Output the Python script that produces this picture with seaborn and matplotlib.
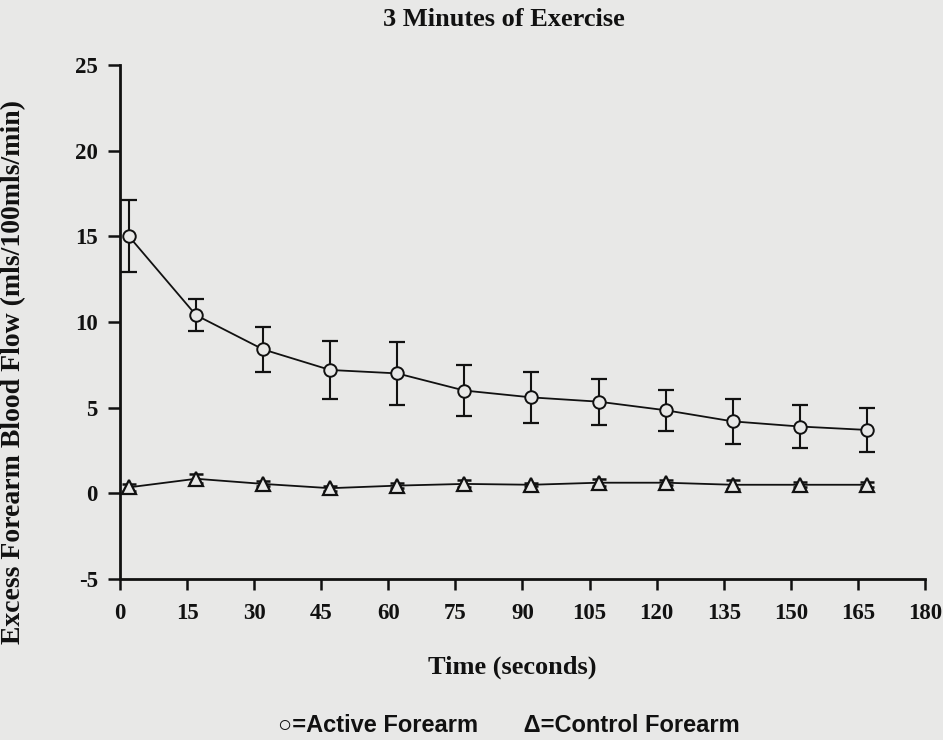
import matplotlib
matplotlib.use("Agg")
import matplotlib.pyplot as plt
import seaborn as sns
import pandas as pd

# ---- data ----
time_s = [2, 17, 32, 47, 62, 77, 92, 107, 122, 137, 152, 167]
active_mean = [15.0, 10.4, 8.4, 7.2, 7.0, 6.0, 5.6, 5.35, 4.85, 4.2, 3.9, 3.7]
active_err = [2.1, 0.95, 1.3, 1.7, 1.85, 1.5, 1.5, 1.35, 1.2, 1.3, 1.25, 1.3]
control_mean = [0.35, 0.85, 0.55, 0.3, 0.45, 0.55, 0.5, 0.62, 0.62, 0.5, 0.5, 0.5]
control_err = [0.2, 0.25, 0.15, 0.15, 0.15, 0.2, 0.1, 0.2, 0.15, 0.25, 0.15, 0.15]
x_ticks = [0, 15, 30, 45, 60, 75, 90, 105, 120, 135, 150, 165, 180]
y_ticks = [-5, 0, 5, 10, 15, 20, 25]

title = "3 Minutes of Exercise"
xlabel = "Time (seconds)"
ylabel = "Excess Forearm Blood Flow (mls/100mls/min)"
legend_text = "\u25CB=Active Forearm       \u0394=Control Forearm"

bg = "#e8e8e7"
ink = "#111111"

sns.set_theme(style="ticks")
plt.rcParams["font.family"] = ["Liberation Serif", "DejaVu Serif"]
plt.rcParams["axes.unicode_minus"] = False

df = pd.DataFrame({
    "time": time_s * 2,
    "flow": active_mean + control_mean,
    "arm": ["Active"] * len(time_s) + ["Control"] * len(time_s),
})

fig = plt.figure(figsize=(9.43, 7.4), dpi=100, facecolor=bg)
ax = fig.add_axes([120 / 943, 1 - 579 / 740, (925 - 120) / 943, (579 - 65) / 740])
ax.set_facecolor(bg)

# error bars first
ax.errorbar(time_s, active_mean, yerr=active_err, fmt="none", ecolor=ink,
            elinewidth=1.5, capsize=5.5, capthick=1.6, zorder=2)
ax.errorbar(time_s, control_mean, yerr=control_err, fmt="none", ecolor=ink,
            elinewidth=1.4, capsize=5, capthick=1.8, zorder=2)

sns.lineplot(data=df, x="time", y="flow", hue="arm", style="arm",
             markers={"Active": "o", "Control": "^"}, dashes=False,
             palette={"Active": ink, "Control": ink}, linewidth=1.3,
             markersize=9, markerfacecolor=bg, markeredgecolor=ink,
             markeredgewidth=1.4, legend=False, ax=ax, zorder=3)
for ln in ax.lines:
    if ln.get_marker() == "^":
        ln.set_markersize(10.5)
        ln.set_markeredgewidth(1.6)

ax.set_xlim(0, 180)
ax.set_ylim(-5, 25)
ax.set_xticks(x_ticks)
ax.set_yticks(y_ticks)
ax.set_xlabel("")
ax.set_ylabel("")
for s in ["top", "right"]:
    ax.spines[s].set_visible(False)
for s in ["left", "bottom"]:
    ax.spines[s].set_linewidth(2.0)
    ax.spines[s].set_color(ink)
ax.tick_params(axis="y", direction="out", length=9, width=1.8, color=ink,
               labelsize=16.5, labelcolor=ink, pad=7)
ax.tick_params(axis="x", direction="out", length=8, width=1.8, color=ink,
               labelsize=16.5, labelcolor=ink, pad=9)
for lab in ax.get_xticklabels() + ax.get_yticklabels():
    lab.set_fontweight("bold")

fig.text(504 / 943, 1 - 20 / 740, title, ha="center", va="center",
         fontsize=19, fontweight="bold", color=ink)
fig.text(512 / 943, 1 - 667 / 740, xlabel, ha="center", va="center",
         fontsize=19, fontweight="bold", color=ink)
fig.text(14 / 943, 1 - 372 / 740, ylabel, ha="center", va="center",
         rotation=90, fontsize=20, fontweight="bold", color=ink)
fig.text(509 / 943, 1 - 725 / 740, legend_text, ha="center", va="center",
         fontsize=17, fontweight="bold", color=ink,
         family=["Liberation Sans", "DejaVu Sans"])

fig.savefig("out.png", dpi=100, facecolor=bg)
